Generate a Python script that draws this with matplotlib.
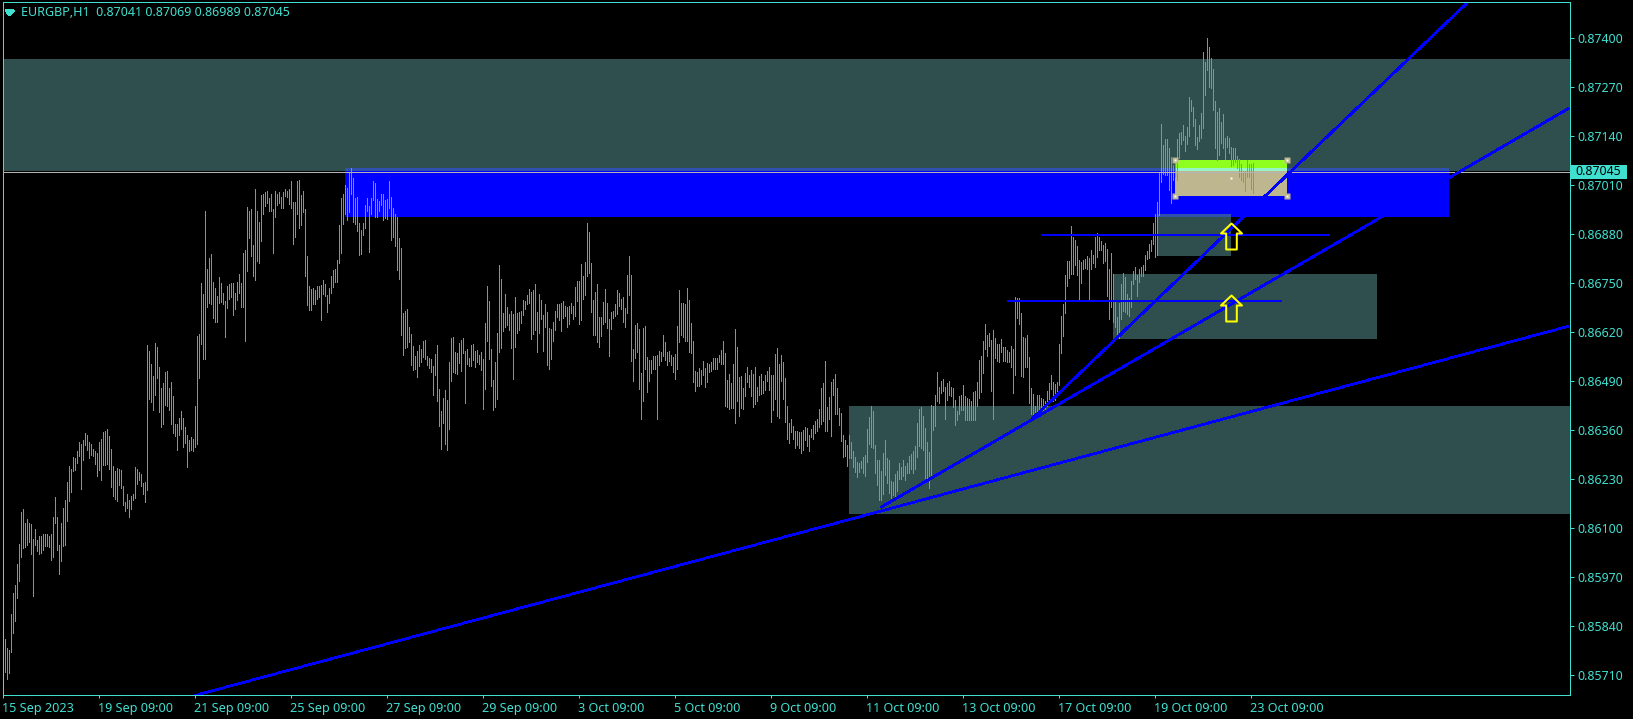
import numpy as np
import matplotlib
matplotlib.use("Agg")
import matplotlib.pyplot as plt
from matplotlib.patches import Rectangle
from matplotlib.path import Path
from matplotlib.transforms import ScaledTranslation

# bar highs / lows, in 1e-5 price units
highs = [
85818,85804,85780,85777,85872,85926,85948,86005,86056,86141,86149,86112,86123,86112,86109,86070,86096,86067,86077,86077,
86083,86083,86083,86077,86083,86128,86181,86128,86054,86112,86152,86173,86221,
86263,86256,86287,86285,86303,86327,86322,86332,86351,86346,86327,86322,86309,86303,86298,86327,86335,86354,86356,86362,
86343,86309,86263,86250,86258,86256,86253,86210,86168,86189,86173,86184,86189,86261,86256,86248,86242,86218,86221,86584,
86568,86534,86502,86590,86579,86526,86470,86484,86513,86515,86470,86486,86449,86375,86375,86391,86409,86391,86367,86346,
86332,86340,86335,86423,86608,86614,86749,86720,86942,86786,86815,86826,86751,86736,86714,86765,86749,86722,86701,86741,
86746,86749,86749,86722,86751,86773,
86749,86828,86836,86950,86940,86945,86850,86998,86942,86911,86982,86987,86990,86993,86974,86985,86945,86993,86987,86990,
86979,86990,86998,86995,86998,87019,86964,86964,87019,87022,86982,86993,86945,86820,86741,86733,86736,86730,86741,86741,
86743,86757,86746,86717,86736,86767,86783,86786,86810,86903,86974,86987,87009,87003,87041,87056,87027,86974,86979,86908,
86889,86908,86956,86974,86953,86974,87019,87014,86972,86966,86987,86985,86969,86972,87019,86979,86948,86932,86924,86868,
86842,86669,86675,86680,86632,86613,86582,86555,86568,86584,86574,86595,86598,86555,86550,86547,86529,86560,86584,86468,
86409,86444,86465,86438,86539,86603,86606,86566,86563,86590,86598,86603,86568,86574,86550,86584,86587,86568,86571,86558,
86566,86547,86643,86741,86701,86574,86492,86539,86616,86797,86759,86669,86720,86685,86667,86675,86667,86712,86669,86672,
86675,86704,86701,86717,86733,86725,86730,86746,86672,86720,86704,86664,86693,86672,86630,86627,86645,86675,86693,86693,
86696,86701,86688,86685,86688,86696,86688,86738,86754,86754,86799,86767,86805,86908,86884,86802,86704,86725,86746,86659,
86659,86698,86733,86696,86653,86672,86675,86693,86730,86722,86706,86712,86683,86770,86820,86770,86574,86637,86643,86627,
86510,86630,86635,86553,86545,86545,86555,86555,86558,86569,86566,86611,86592,86566,86569,86558,86553,86561,86635,86730,
86696,86696,86693,86736,86704,86643,86595,86515,86513,86523,86518,86542,86523,86537,86534,86539,86550,86550,86550,86558,
86571,86597,86563,86491,86507,86483,86536,86627,86581,86499,86502,86470,86510,86526,86505,86520,86507,86526,86473,86502,
86507,86489,86505,86515,86526,86505,86505,86560,86576,86534,86558,86539,86497,86422,86377,86388,86369,86356,86356,86353,
86353,86359,86367,86364,86345,86361,86372,86383,86388,86414,86470,86483,86542,86420,86446,86486,86494,86507,86470,86417,
86404,86345,86332,86319,86345,86327,86303,86287,86274,86271,86276,86287,86292,86361,86393,86422,86409,86319,86279,86279,
86250,86298,86332,86284,86279,86223,86221,86242,86250,86271,86261,86279,86263,86271,86290,86295,86303,86316,86377,86414,
86420,86398,86364,86327,86300,86425,86422,86452,86513,86473,86489,86494,86473,86483,86489,86473,86470,86438,86409,86449,
86452,86478,86449,86444,86441,86436,86460,86462,86486,86545,86555,86595,86640,86611,86616,86598,86624,86603,86587,86587,
86600,86579,86579,86571,86566,86582,86574,86712,86709,86709,86669,86606,86603,86611,86553,86470,86454,86423,86452,86452,
86444,86441,86436,86462,86484,86505,86486,86481,86486,86587,86661,86693,86770,86807,86807,86900,86873,86863,86847,86810,
86805,86810,86812,86820,86815,86836,86823,86871,86881,86871,86860,86850,86855,86839,86786,86828,86773,86701,86659,86696,
86746,86775,86765,86720,86709,86754,86781,86791,86770,86786,86791,86797,86823,86834,86852,86863,86908,86932,86964,
87041,87171,87115,87131,87131,87107,87083,87062,87075,87131,87147,87149,87168,87141,87163,87242,87234,87216,87184,87136,
87168,87200,87362,87335,87401,87375,87346,87317,87232,87203,87213,87176,87197,87134,87139,87134,87110,87107,87107,87086,87080,
87066,87048,87048,87076,87066,87066,87069,
]
lows = [
85724,85718,85699,85715,85771,85821,85852,85914,85959,86023,86047,86049,86054,86062,86030,85919,86054,86038,86030,86032,
86040,86051,86051,86048,86014,86022,86112,86040,85977,86011,86051,86054,86117,
86171,86195,86250,86253,86271,86290,86202,86279,86319,86306,86285,86293,86290,86269,86237,86253,86226,86266,86266,86269,
86256,86208,86184,86176,86171,86213,86205,86160,86144,86152,86128,86149,86173,86179,86216,86226,86210,86189,86168,86200,
86441,86433,86412,86452,86497,86407,86367,86375,86425,86423,86412,86375,86351,86343,86306,86346,86362,86314,86325,86261,
86303,86306,86303,86314,86322,86497,86587,86547,86547,86685,86696,86693,86656,86645,86645,86696,86698,86693,86606,86682,
86706,86712,86664,86680,86704,86722,
86685,86685,86595,86781,86868,86820,86767,86757,86807,86804,86860,86932,86953,86961,86942,86940,86828,86924,86956,86961,
86948,86948,86980,86977,86958,86948,86852,86873,86934,86895,86903,86937,86767,86690,86677,86677,86693,86693,86706,86712,
86651,86720,86714,86672,86696,86722,86738,86751,86751,86802,86828,86905,86932,86916,86937,86987,86911,86905,86887,86823,
86826,86876,86895,86940,86831,86932,86969,86924,86926,86942,86956,86916,86921,86919,86948,86863,86873,86847,86783,86759,
86611,86558,86576,86579,86592,86531,86518,86521,86500,86529,86539,86553,86547,86531,86523,86513,86452,86505,86436,86370,
86309,86377,86322,86306,86362,86489,86513,86510,86507,86537,86515,86563,86431,86534,86529,86529,86545,86526,86539,86534,
86518,86415,86468,86595,86547,86476,86412,86420,86441,86566,86576,86622,86632,86637,86624,86576,86494,86579,86616,86624,
86643,86664,86680,86693,86696,86600,86614,86624,86566,86616,86653,86568,86632,86531,86521,86547,86595,86624,86659,86651,
86622,86656,86661,86632,86640,86669,86653,86661,86701,86640,86651,86706,86717,86767,86775,86672,86611,86611,86592,86579,
86608,86640,86645,86630,86555,86627,86656,86661,86667,86688,86680,86645,86632,86669,86717,86542,86489,86550,86566,86468,
86388,86436,86521,86460,86489,86510,86521,86521,86388,86531,86542,86555,86545,86531,86542,86531,86513,86494,86521,86592,
86611,86606,86595,86595,86566,86563,86486,86462,86476,86476,86481,86505,86473,86486,86513,86515,86521,86521,86521,86539,
86534,86536,86422,86420,86414,86417,86417,86377,86436,86398,86417,86414,86449,86486,86473,86449,86420,86428,86436,86452,
86454,86459,86467,86489,86465,86380,86412,86441,86396,86391,86489,86441,86380,86335,86324,86353,86335,86311,86319,86311,
86298,86306,86332,86316,86303,86340,86335,86351,86356,86367,86375,86383,86356,86356,86388,86343,86452,86401,86401,86372,
86330,86287,86290,86263,86284,86284,86261,86247,86234,86247,86258,86245,86237,86274,86322,86314,86311,86245,86213,86173,
86173,86189,86239,86218,86192,86178,86186,86173,86197,86229,86229,86237,86226,86245,86245,86255,86245,86255,86287,86316,
86311,86306,86231,86231,86205,86231,86359,86369,86436,86430,86459,86462,86388,86438,86452,86449,86420,86372,86385,86401,
86412,86412,86386,86386,86386,86386,86386,86386,86423,86444,86460,86510,86574,86555,86582,86462,86388,86550,86542,86539,
86566,86542,86542,86539,86539,86526,86457,86505,86656,86640,86502,86500,86526,86526,86431,86401,86401,86396,86409,86409,
86407,86412,86412,86423,86441,86468,86436,86438,86454,86478,86563,86608,86669,86741,86762,86773,86773,86797,86770,86706,
86749,86786,86789,86786,86706,86786,86802,86791,86818,86836,86836,86804,86807,86714,86653,86685,86645,86632,86606,86603,
86653,86675,86672,86667,86661,86685,86746,86759,86714,86751,86767,86767,86783,86812,86815,86834,86852,86818,86823,
86929,87017,87038,87035,87035,86996,86961,87022,87031,87022,87081,87118,87128,87099,87118,87141,87205,87165,87115,87104,
87126,87134,87160,87248,87314,87271,87266,87208,87107,87075,87088,87120,87107,87078,87110,87094,87059,87062,87070,87054,87030,
87022,87017,86995,87030,87030,87000,86989,
]
n = min(len(highs), len(lows))
high = np.array(highs[:n]) / 1e5
low = np.array(lows[:n]) / 1e5

price_ticks = [0.85710, 0.85840, 0.85970, 0.86100, 0.86230, 0.86360, 0.86490, 0.86620,
               0.86750, 0.86880, 0.87010, 0.87140, 0.87270, 0.87400]
date_labels = ["15 Sep 2023", "19 Sep 09:00", "21 Sep 09:00", "25 Sep 09:00", "27 Sep 09:00",
               "29 Sep 09:00", "3 Oct 09:00", "5 Oct 09:00", "9 Oct 09:00", "11 Oct 09:00",
               "13 Oct 09:00", "17 Oct 09:00", "19 Oct 09:00", "23 Oct 09:00"]
last_price = 0.87045

# zones: bar from, bar to, price top, price bottom
zone_top = (-1, 800, 0.87343, 0.87046)
zone_low = (422.75, 800, 0.86422, 0.86137)
zone_mid = (554.75, 686.75, 0.86773, 0.86600)
zone_small = (576.75, 613.75, 0.86932, 0.86820)
zone_blue = (170.75, 722.75, 0.87056, 0.86926)

# trend lines: (bar, price) pairs
trend_long = ([95.75, 782.75], [0.85655, 0.86635])
trend_mid = ([438.75, 782.75], [0.86154, 0.87213])
trend_steep = ([514.25, 731.75], [0.86388, 0.87492])
level_1 = ([518.75, 663.25], [0.86877, 0.86877])
level_2 = ([501.75, 639.25], [0.86702, 0.86702])
arrow_bar = [613.75, 613.75]
arrow_price = [0.86874, 0.86683]

TURQ = "#40E0D0"
FONT = "Noto Sans"
PX = 0.72  # one pixel in points at dpi 100

W, H = 1633, 719
fig = plt.figure(figsize=((W + 0.01) / 100, (H + 0.01) / 100), dpi=100, facecolor="black")
ax = fig.add_axes([3 / W, 1 - 695.5 / H, 1566.5 / W, 693 / H], facecolor="black")
ax.set_xlim(-0.1, 783.15)
ax.set_ylim(0.85655, 0.87494)


def zone(z, color, zorder=1):
    ax.add_patch(Rectangle((z[0], z[3]), z[1] - z[0], z[2] - z[3], facecolor=color,
                           edgecolor="none", antialiased=False, zorder=zorder))


GRAY = "#2F4F4F"
zone(zone_top, GRAY)
zone(zone_low, GRAY)
zone(zone_mid, GRAY)
zone(zone_small, GRAY)
zone(zone_blue, "#0000FF", 1.5)
# blended strips where the zones overlap
zone((170.75, 722.75, 0.87056, 0.87046), "#3050B0", 1.6)
zone((576.75, 613.75, 0.86932, 0.86926), "#3050B0", 1.6)
# selected rectangle
zone((585.75, 641.75, 0.87075, 0.87056), "#8FFF1F", 2)
zone((585.75, 641.75, 0.87056, 0.87046), "#96F5C8", 2)
zone((585.75, 641.75, 0.87046, 0.86980), "#BDB68F", 2)

xs = np.arange(n)
ax.vlines(xs, low, high, colors="#6495ED", linewidth=PX, antialiased=False, zorder=3)

ax.axhline(last_price, color="#B4B4B4", linewidth=PX, antialiased=False, zorder=4)

for ln in [trend_long, trend_mid, trend_steep, level_1, level_2]:
    ax.plot(ln[0], ln[1], color="#0000FF", linewidth=1.7 * PX, antialiased=False, zorder=5,
            solid_capstyle="butt")

# handles of the selected rectangle
hx = [585.75, 641.75, 585.75, 641.75, 613.75]
hy = [0.87075, 0.87075, 0.86980, 0.86980, 0.87028]
ax.plot(hx, hy, ls="none", marker="s", ms=6 * PX, mfc="#BDB68F", mec="none", zorder=6)
ax.plot(hx, hy, ls="none", marker="s", ms=2 * PX, mfc="white", mec="none", zorder=7)

# up arrow outline
arrow = Path([(0, 13), (10.5, 3), (5.3, 3), (5.3, -13), (-5.3, -13), (-5.3, 3), (-10.5, 3), (0, 13)], closed=True)
ax.plot(arrow_bar, arrow_price, ls="none", marker=arrow, ms=26 * PX, mfc="none", mec="#FFFF00",
        mew=2 * PX, zorder=8)

for s in ax.spines.values():
    s.set_color(TURQ)
    s.set_linewidth(PX)
    s.set_zorder(10)

ax.yaxis.tick_right()
ax.set_yticks(price_ticks)
ax.set_yticklabels([f"{p:.5f}" for p in price_ticks])
ax.set_xticks(np.arange(len(date_labels)) * 48)
ax.set_xticklabels(date_labels, ha="left")
ax.tick_params(axis="y", colors=TURQ, length=4 * PX, width=PX, pad=3, labelsize=8.9)
ax.tick_params(axis="x", colors=TURQ, length=3 * PX, width=PX, pad=2.3, labelsize=9.1)
shift = ScaledTranslation(-1.5 / 100, 0, fig.dpi_scale_trans)
for t in ax.get_xticklabels():
    t.set_family(FONT)
    t.set_transform(t.get_transform() + shift)
for t in ax.get_yticklabels():
    t.set_family(FONT)

# current price box on the scale
box_tr = ax.get_yaxis_transform()
ax.add_patch(Rectangle((1.0012, 0.87025), 56 / 1566.5, 0.00037, transform=box_tr, facecolor=TURQ,
                       edgecolor="none", clip_on=False, zorder=11))
ax.text(1.0035, last_price, f"{last_price:.5f}", transform=box_tr, color="black", fontsize=8.9,
        family=FONT, va="center", ha="left", clip_on=False, zorder=12)

# header
ax.fill([1.25, 5.25, 3.25], [0.87473, 0.87473, 0.87460], color=TURQ, zorder=12, antialiased=False)
fig.text(21 / W, 1 - 12.5 / H, "EURGBP,H1  0.87041 0.87069 0.86989 0.87045", color=TURQ, fontsize=9,
         family=FONT, va="center", ha="left")

fig.savefig("out.png", dpi=100, facecolor="black")
